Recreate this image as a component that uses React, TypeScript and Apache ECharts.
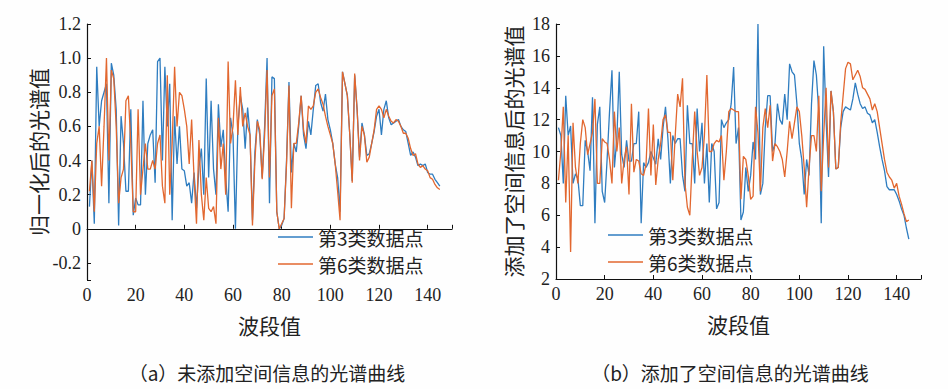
import React, { useEffect, useRef } from "react";
import * as echarts from "echarts";

// Bands 1..145
const leftClass3: number[] = [
  0.13, 0.4, 0.03, 0.95, 0.6, 0.75, 0.8, 0.85, 0.15, 0.97,
  0.9, 0.7, 0.02, 0.66, 0.5, 0.22, 0.22, 0.7, 0.08, 0.18,
  0.14, 0.14, 0.75, 0.2, 0.5, 0.55, 0.58, 0.27, 0.98, 1.0,
  0.4, 0.95, 0.6, 0.85, 0.05, 0.66, 0.38, 0.6, 0.35, 0.34,
  0.25, 0.27, 0.15, 0.33, 0.12, 0.36, 0.47, 0.2, 0.88, 0.3,
  0.75, 0.35, 0.2, 0.73, 0.48, 0.58, 0.3, 0.1, 0.65, 0.55,
  0.0, 0.6, 0.78, 0.7, 0.47, 0.71, 0.55, 0.05, 0.45, 0.64,
  0.55, 0.3, 0.6, 1.0, 0.15, 0.89, 0.88, 0.1, 0.0, 0.02,
  0.06, 0.4, 0.86, 0.33, 0.5, 0.45, 0.6, 0.78, 0.55, 0.47,
  0.63, 0.55, 0.7, 0.84, 0.85, 0.74, 0.69, 0.79, 0.64, 0.58,
  0.5, 0.38, 0.3, 0.1, 0.92, 0.85, 0.78, 0.55, 0.28, 0.9,
  0.7, 0.42, 0.62, 0.55, 0.43, 0.44, 0.5, 0.57, 0.66, 0.7,
  0.55, 0.7, 0.75, 0.65, 0.61, 0.62, 0.63, 0.64, 0.6, 0.58,
  0.57, 0.5, 0.43, 0.45, 0.42, 0.37, 0.38, 0.37, 0.38, 0.33,
  0.32, 0.32, 0.29, 0.27, 0.25,
];
const leftClass6: number[] = [
  0.22, 0.4, 0.1, 0.5, 0.6, 0.25, 0.6, 1.0, 0.4, 0.93,
  0.88, 0.6, 0.15, 0.3, 0.35, 0.75, 0.78, 0.5, 0.1, 0.1,
  0.7, 0.2, 0.35, 0.5, 0.35, 0.35, 0.4, 0.35, 0.5, 0.55,
  0.25, 0.15, 0.9, 0.2, 0.5, 0.95, 0.6, 0.8, 0.78, 0.7,
  0.6, 0.38, 0.64, 0.3, 0.03, 0.52, 0.2, 0.05, 0.3, 0.12,
  0.1, 0.13, 0.03, 0.65, 0.35, 0.5, 0.2, 0.98, 0.5, 0.6,
  0.87, 0.55, 0.83, 0.6, 0.68, 0.6, 0.55, 0.02, 0.4, 0.63,
  0.58, 0.29, 0.55, 0.93, 0.3, 0.78, 0.82, 0.1, 0.0, 0.03,
  0.06, 0.38, 0.84, 0.12, 0.5, 0.5, 0.62, 0.78, 0.58, 0.5,
  0.72, 0.7, 0.72, 0.8, 0.82, 0.77, 0.73, 0.66, 0.6, 0.55,
  0.5, 0.38, 0.22, 0.05, 0.92, 0.85, 0.78, 0.55, 0.27, 0.91,
  0.7, 0.4, 0.6, 0.55, 0.39, 0.42, 0.5, 0.58, 0.7, 0.72,
  0.7, 0.65, 0.7, 0.66, 0.63, 0.62, 0.64, 0.63, 0.6, 0.56,
  0.56, 0.53, 0.47, 0.43, 0.44, 0.38, 0.36, 0.37, 0.35, 0.34,
  0.3, 0.29, 0.26, 0.24, 0.23,
];
const rightClass3: number[] = [
  11.5, 11.0, 8.0, 13.5, 11.0, 11.6, 8.0, 8.6, 8.3, 6.6,
  6.6, 10.7, 10.0, 8.8, 13.4, 5.5, 11.7, 12.8, 7.5, 6.8,
  9.5, 12.5, 15.1, 9.0, 10.8, 15.0, 9.8, 9.0, 10.7, 9.4,
  9.4, 10.5, 10.5, 12.5, 5.5, 9.3, 9.0, 9.3, 10.0, 9.6,
  9.2, 10.8, 9.5, 11.5, 12.8, 10.8, 8.0, 11.0, 10.5, 10.8,
  10.8, 8.5, 7.5, 12.9, 10.5, 10.5, 8.0, 12.7, 10.0, 11.8,
  8.0, 10.5, 6.8, 10.5, 10.0, 6.4, 6.8, 12.0, 11.5, 11.8,
  12.0, 13.0, 15.3, 10.5, 11.5, 5.7, 6.2, 9.0, 7.5, 8.5,
  10.6, 9.5, 18.0, 7.3, 8.0, 11.5, 13.5, 13.5, 10.0, 10.5,
  13.0, 12.0, 11.7, 13.6, 12.0, 15.5, 15.0, 14.8, 13.0, 10.5,
  9.5, 7.3, 9.5, 8.5, 13.0, 15.7, 14.8, 12.5, 5.5, 16.6,
  12.0, 8.4, 13.8, 12.5, 8.9, 9.0, 11.5, 12.5, 12.8, 12.7,
  12.6, 13.3, 14.3, 13.6, 13.0, 12.7, 12.8, 12.4, 12.3, 11.8,
  12.0, 11.2, 10.3, 9.5, 8.8, 7.8, 7.6, 7.6, 7.6, 7.3,
  6.9, 6.4, 6.0, 5.2, 4.5,
];
const rightClass6: number[] = [
  8.2, 10.0, 12.8, 6.8, 11.0, 3.7, 11.8, 9.0, 8.0, 10.5,
  12.0, 11.5, 9.8, 10.5, 11.2, 13.3, 8.0, 8.0, 10.8, 10.6,
  10.5, 9.5, 8.0, 12.5, 10.0, 11.5, 8.0, 9.5, 10.3, 7.3,
  13.0, 8.7, 9.5, 9.4, 8.6, 8.5, 9.2, 12.7, 8.5, 11.7,
  7.9, 9.5, 10.5, 12.0, 12.3, 11.2, 11.2, 8.2, 11.0, 13.6,
  12.8, 14.6, 8.0, 6.5, 6.0, 9.5, 12.5, 10.0, 8.5, 9.0,
  11.0, 14.8, 10.0, 10.0, 10.5, 10.7, 10.6, 11.0, 8.2, 10.0,
  12.5, 12.7, 12.6, 12.5, 12.5, 7.0, 9.7, 9.5, 8.5, 7.0,
  7.2, 12.8, 11.2, 7.5, 11.5, 12.7, 11.5, 12.9, 9.4, 10.5,
  10.3, 10.0, 9.5, 8.4, 10.0, 11.9, 10.8, 11.8, 12.8, 12.5,
  11.0, 9.0, 6.5, 9.0, 11.0, 11.0, 10.0, 13.5, 7.5, 11.0,
  14.0, 9.0, 13.8, 12.5, 8.9, 9.0, 11.8, 13.5, 15.2, 15.6,
  15.5, 14.5, 14.8, 15.1, 14.7, 14.0, 13.9, 13.6, 13.3, 12.6,
  13.0, 12.5, 11.5, 10.5, 9.5, 8.7, 8.4, 8.2, 7.7, 8.0,
  7.2, 6.7, 6.1, 5.6, 5.7,
];
const xTickLabels = ["0", "20", "40", "60", "80", "100", "120", "140"];
const seriesNames = ["第3类数据点", "第6类数据点"];
const xAxisTitle = "波段值";
const leftYTitle = "归一化后的光谱值";
const rightYTitle = "添加了空间信息后的光谱值";
const captionA = "（a）未添加空间信息的光谱曲线";
const captionB = "（b）添加了空间信息的光谱曲线";

const BLUE = "#2f7dc0";
const ORANGE = "#e2672f";
const SERIF = "'Liberation Serif', 'DejaVu Serif', serif";
const CJK = "'Noto Sans CJK SC', sans-serif";

const toPairs = (arr: number[]) => arr.map((v, i) => [i + 1, v]);

export default function App() {
  const ref = useRef<HTMLDivElement>(null);
  useEffect(() => {
    if (!ref.current) return;
    const chart = echarts.init(ref.current, undefined, { renderer: "svg" });
    const axisCommon = {
      axisLine: { show: true, lineStyle: { color: "#111", width: 1.2 } },
      axisTick: { show: true, inside: true, length: 4, lineStyle: { color: "#111" } },
      splitLine: { show: false },
    };
    const xAxis = (gridIndex: number) => ({
      type: "value",
      gridIndex,
      min: 0,
      max: 150,
      interval: 20,
      ...axisCommon,
      axisLabel: {
        color: "#222",
        fontFamily: SERIF,
        fontSize: 18,
        margin: 6,
        formatter: (v: number) => (xTickLabels.includes(String(v)) ? String(v) : ""),
      },
      name: xAxisTitle,
      nameLocation: "middle",
      nameGap: 34,
      nameTextStyle: { fontFamily: CJK, fontSize: 21, color: "#222" },
    });
    const lineSeries = (name: string, data: number[], color: string, idx: number) => ({
      type: "line",
      name,
      xAxisIndex: idx,
      yAxisIndex: idx,
      data: toPairs(data),
      showSymbol: false,
      symbol: "none",
      lineStyle: { color, width: 1.3 },
      itemStyle: { color },
    });
    const legend = (left: number, top: number) => ({
      data: seriesNames.map((n) => ({ name: n, icon: "rect" })),
      orient: "vertical",
      left,
      top,
      padding: 0,
      itemWidth: 35,
      itemHeight: 1.5,
      itemGap: 7,
      selectedMode: false,
      textStyle: { fontFamily: CJK, fontSize: 19, color: "#222", lineHeight: 20 },
    });
    chart.setOption({
      animation: false,
      backgroundColor: "#fefefe",
      grid: [
        { left: 87, top: 24, width: 365, height: 256 },
        { left: 556, top: 24, width: 365, height: 255 },
      ],
      xAxis: [xAxis(0), xAxis(1)],
      yAxis: [
        {
          type: "value",
          gridIndex: 0,
          min: -0.3,
          max: 1.2,
          minInterval: 0.2,
          maxInterval: 0.2,
          ...axisCommon,
          axisLabel: {
            color: "#222",
            fontFamily: SERIF,
            fontSize: 18,
            margin: 6,
            formatter: (v: number) => {
              const r = Math.round(v * 10);
              if (r % 2 !== 0 || v < -0.25) return "";
              return r === 0 ? "0" : (r / 10).toFixed(1);
            },
          },
          name: leftYTitle,
          nameLocation: "middle",
          nameGap: 35,
          nameTextStyle: { fontFamily: CJK, fontSize: 21, color: "#222" },
        },
        {
          type: "value",
          gridIndex: 1,
          min: 2,
          max: 18,
          interval: 2,
          ...axisCommon,
          axisLabel: { color: "#222", fontFamily: SERIF, fontSize: 18, margin: 6 },
          name: rightYTitle,
          nameLocation: "middle",
          nameGap: 33,
          nameTextStyle: { fontFamily: CJK, fontSize: 21, color: "#222" },
        },
      ],
      legend: [legend(278, 227), legend(608, 225)],
      series: [
        lineSeries(seriesNames[0], leftClass3, BLUE, 0),
        lineSeries(seriesNames[1], leftClass6, ORANGE, 0),
        lineSeries(seriesNames[0], rightClass3, BLUE, 1),
        lineSeries(seriesNames[1], rightClass6, ORANGE, 1),
      ],
      graphic: [
        {
          type: "text",
          style: { text: captionA, x: 267, y: 372, fontFamily: CJK, fontSize: 19, fill: "#222", textAlign: "center", textVerticalAlign: "middle" },
        },
        {
          type: "text",
          style: { text: captionB, x: 730, y: 372, fontFamily: CJK, fontSize: 19, fill: "#222", textAlign: "center", textVerticalAlign: "middle" },
        },
      ],
    });
    return () => chart.dispose();
  }, []);
  return (
    <div
      ref={ref}
      style={{ position: "absolute", left: 0, top: 0, width: 948, height: 389 }}
    />
  );
}
